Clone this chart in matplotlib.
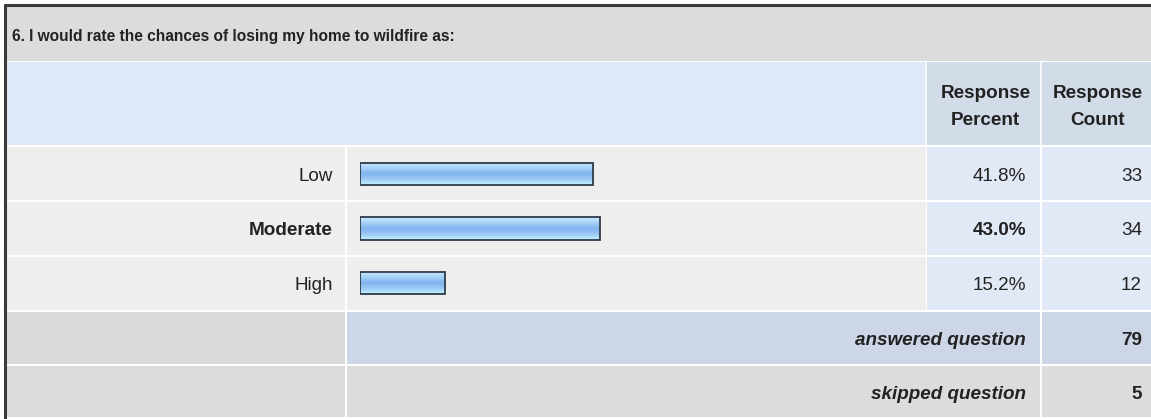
import numpy as np
import matplotlib.pyplot as plt
from matplotlib.patches import Rectangle
from matplotlib.colors import LinearSegmentedColormap

plt.rcParams['font.family'] = ['Liberation Sans', 'DejaVu Sans']

# Survey data
question = "6. I would rate the chances of losing my home to wildfire as:"
categories = ["Low", "Moderate", "High"]
percents = [41.8, 43.0, 15.2]
counts = [33, 34, 12]
answered = 79
skipped = 5
header_percent = ["Response", "Percent"]
header_count = ["Response", "Count"]

W, H = 1151, 419
fig = plt.figure(figsize=(W / 100, H / 100), dpi=100)
fig.patch.set_facecolor('white')

# Full-figure layout axes in pixel units
bg = fig.add_axes([0, 0, 1, 1])
bg.set_xlim(0, W)
bg.set_ylim(H, 0)
bg.axis('off')

def cell(x0, y0, x1, y1, color):
    bg.add_patch(Rectangle((x0, y0), x1 - x0, y1 - y0, facecolor=color,
                           edgecolor='none', zorder=1))

# column edges
c_left, c_lab, c_bar, c_pct, c_right = 6, 346, 926, 1041, W
row_tops = [147, 202, 257]
row_h = 53

# title row
cell(c_left, 6, c_right, 61, '#dcdcdc')
# header row
cell(c_left, 62, c_right, 145, '#f6f8fb')
cell(c_left, 62, c_bar - 1, 145, '#dee8f7')
cell(c_bar + 1, 62, c_pct - 1, 145, '#d2dbe8')
cell(c_pct + 1, 62, c_right, 145, '#d2dbe8')

# data rows
for top in row_tops:
    cell(c_left, top, c_lab - 1, top + row_h, '#eeeeee')
    cell(c_lab + 1, top, c_bar, top + row_h, '#eeeeee')
    cell(c_bar + 1, top, c_pct - 1, top + row_h, '#e2e9f6')
    cell(c_pct + 1, top, c_right, top + row_h, '#e2e9f6')

# summary rows
cell(c_left, 312, c_lab - 1, 364, '#dadada')
cell(c_lab + 1, 312, c_pct - 1, 364, '#cdd6e6')
cell(c_pct + 1, 312, c_right, 364, '#cdd6e6')
cell(c_left, 366, c_lab - 1, 417, '#dcdcdc')
cell(c_lab + 1, 366, c_pct - 1, 417, '#dcdcdc')
cell(c_pct + 1, 366, c_right, 417, '#dcdcdc')

# outer border (top and left)
bg.plot([4, W], [5, 5], color='#3a3a3a', lw=2.2, zorder=3, solid_capstyle='butt')
bg.plot([5, 5], [4, 419], color='#3a3a3a', lw=2.2, zorder=3, solid_capstyle='butt')

txt_color = '#222222'
fs = 13.6

bg.text(12, 41, question, fontsize=11.2, fontweight='bold', color=txt_color,
        ha='left', va='baseline', zorder=4)
for lines, xc in ((header_percent, (c_bar + c_pct) / 2 + 2),
                  (header_count, (c_pct + c_right) / 2 + 2)):
    for line, yb in zip(lines, (98, 125)):
        bg.text(xc, yb, line, fontsize=fs, fontweight='bold', color=txt_color,
                ha='center', va='baseline', zorder=4)

top_idx = int(np.argmax(percents))
baselines = [181, 235, 290]
for i, (cat, p, n) in enumerate(zip(categories, percents, counts)):
    yb = baselines[i]
    w = 'bold' if i == top_idx else 'normal'
    bg.text(333, yb, cat, fontsize=fs, fontweight=w, color=txt_color,
            ha='right', va='baseline', zorder=4)
    bg.text(1026, yb, f"{p:.1f}%", fontsize=fs, fontweight=w, color=txt_color,
            ha='right', va='baseline', zorder=4)
    bg.text(1142, yb, f"{n}", fontsize=fs, color=txt_color,
            ha='right', va='baseline', zorder=4)

bg.text(1026, 345, "answered question", fontsize=fs, fontweight='bold',
        style='italic', color=txt_color, ha='right', va='baseline', zorder=4)
bg.text(1142, 345, f"{answered}", fontsize=fs, fontweight='bold',
        color=txt_color, ha='right', va='baseline', zorder=4)
bg.text(1026, 399, "skipped question", fontsize=fs, fontweight='bold',
        style='italic', color=txt_color, ha='right', va='baseline', zorder=4)
bg.text(1142, 399, f"{skipped}", fontsize=fs, fontweight='bold',
        color=txt_color, ha='right', va='baseline', zorder=4)

# Bar axes: 0-100 % across the bar column, one unit per row
bx0, bx1 = 360, 918
by0, by1 = row_tops[0], row_tops[-1] + row_h
bar_ax = fig.add_axes([bx0 / W, 1 - by1 / H, (bx1 - bx0) / W, (by1 - by0) / H])
bar_ax.set_xlim(0, 100)
bar_ax.set_ylim(len(categories) - 0.5, -0.5)
bar_ax.axis('off')
bar_ax.patch.set_alpha(0)

ypos = np.arange(len(categories))
bars = bar_ax.barh(ypos, percents, height=0.41, color='#9cc8f4',
                   edgecolor='#2e3b48', linewidth=1.3, zorder=3)

grad_cmap = LinearSegmentedColormap.from_list(
    'glass', ['#c6e9ff', '#a8d2f8', '#7fb4ee', '#9ccaf6', '#c2f2ff'])
grad = np.linspace(0, 1, 64).reshape(-1, 1)
for b in bars:
    x0, y0 = b.get_x(), b.get_y()
    im = bar_ax.imshow(grad, cmap=grad_cmap, aspect='auto',
                       extent=(x0, x0 + b.get_width(), y0 + b.get_height(), y0),
                       zorder=2, interpolation='bilinear')
    im.set_clip_path(b)
    b.set_facecolor('none')
bar_ax.set_xlim(0, 100)
bar_ax.set_ylim(len(categories) - 0.5, -0.5)

fig.savefig('out.png', dpi=100, facecolor='white')
